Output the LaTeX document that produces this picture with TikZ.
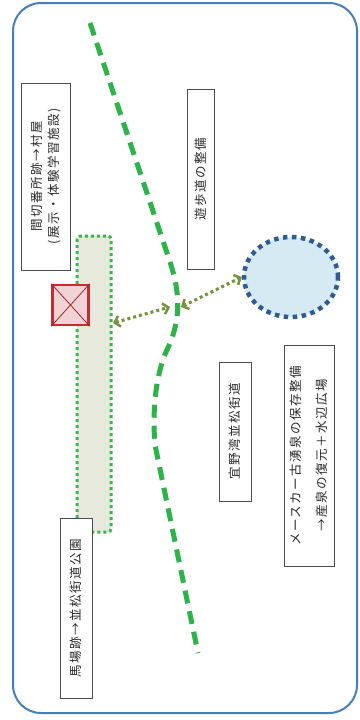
\documentclass[tikz,border=0pt]{standalone}
\usepackage{fontspec}
\newfontfamily\jp[LetterSpace=12]{Noto Sans CJK JP}
\usetikzlibrary{arrows.meta,shapes.geometric}
\definecolor{frameblue}{HTML}{4A7EBB}
\definecolor{roadgreen}{HTML}{2DB34A}
\definecolor{arrgreen}{HTML}{76923C}
\definecolor{parkfill}{HTML}{E6E9DB}
\definecolor{dotgreen}{HTML}{3CB54A}
\definecolor{pondfill}{HTML}{D6EAF3}
\definecolor{ponddot}{HTML}{2F5D93}
\definecolor{redbox}{HTML}{C62D33}
\definecolor{pinkfill}{HTML}{F2D3D5}
\definecolor{txt}{HTML}{2A2A2A}
\tikzset{
  label box/.style={draw=black!70, line width=1pt, fill=white, rotate=90, inner sep=2pt,
    font=\jp\fontsize{12.5}{17}\selectfont, text=txt, align=center},
  walk/.style={draw=arrgreen, line width=3pt, dash pattern=on 3pt off 3pt,
    {Straight Barb[length=5pt,width=11pt,line width=2.5pt]}-{Straight Barb[length=5pt,width=11pt,line width=2.5pt]}}
}
\begin{document}
\begin{tikzpicture}[x=1pt,y=-1pt]
\useasboundingbox (0,0) rectangle (359,720);
\fill[white] (0,0) rectangle (359,720);
% frame
\draw[frameblue, line width=2pt, rounded corners=28pt] (13,3) rectangle (357,713);
% park strip
\draw[dotgreen, fill=parkfill, line width=3pt, dash pattern=on 3pt off 3pt, rounded corners=3pt]
  (77,236) rectangle (111,532);
% pond
\node[ellipse, draw=ponddot, fill=pondfill, line width=4.5pt, dash pattern=on 4.5pt off 4.5pt,
  minimum width=94pt, minimum height=80pt, inner sep=0pt] (pond) at (291,277) {};
% road
\draw[roadgreen, line width=5pt, dash pattern=on 13pt off 8pt]
  (90,23) -- (170,262) .. controls (180,292) and (182,320) .. (166,352)
  .. controls (156,375) and (152,410) .. (155,445) -- (198,653);
% red box
\node[draw=redbox, fill=pinkfill, line width=2.5pt, minimum width=36pt, minimum height=40pt,
  inner sep=0pt] (bansho) at (70.5,305) {};
\draw[redbox!80!black, line width=0.8pt] (bansho.north west) -- (bansho.south east)
  (bansho.north east) -- (bansho.south west);
% arrows
\coordinate (rL) at (113,323);
\coordinate (rM1) at (170,307);
\coordinate (rM2) at (181,307);
\draw[walk] (rL) -- (rM1);
\draw[walk] (rM2) -- (pond.west);
% labels
\node[label box, minimum width=187pt, minimum height=49pt] (b1) at (45.5,176.5)
  {間切番所跡→村屋\\(展示・体験学習施設)};
\node[label box, minimum width=180pt, minimum height=27pt] (b2) at (200.5,179)
  {遊歩道の整備};
\node[label box, minimum width=139pt, minimum height=32pt] (b3) at (235,431.5)
  {宜野湾並松街道};
\node[label box, minimum width=221pt, minimum height=50pt] (b4) at (309,455.5)
  {メースカー古湧泉の保存整備\\[9pt]→産泉の復元＋水辺広場};
\node[label box, minimum width=180pt, minimum height=32pt] (b5) at (76,608)
  {馬場跡→並松街道公園};
\end{tikzpicture}
\end{document}
